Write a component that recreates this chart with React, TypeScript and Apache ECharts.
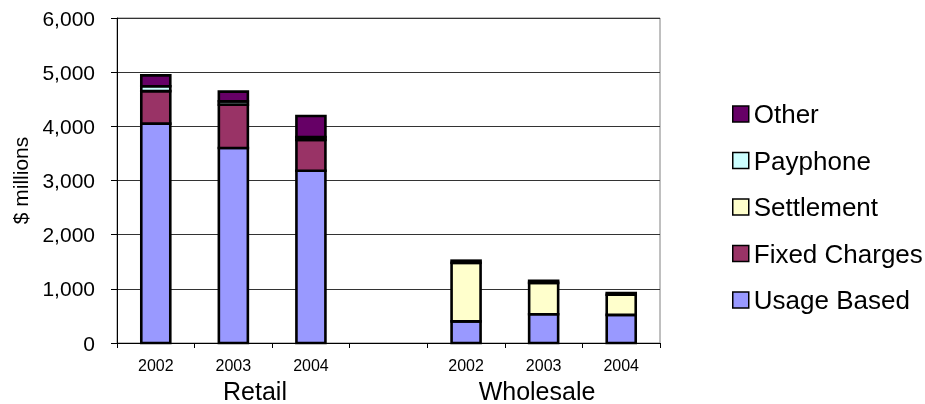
import React, { useEffect, useRef } from "react";
import * as echarts from "echarts";

const categories = ["2002", "2003", "2004", "", "2002", "2003", "2004"];
const groupLabels = ["Retail", "Wholesale"];
const usageBased = [4050, 3600, 3180, null, 400, 530, 520];
const fixedCharges = [600, 800, 570, null, null, null, null];
const settlement = [null, null, null, null, 1080, 580, 370];
const payphone = [90, 60, 50, null, null, null, null];
const other = [200, 180, 390, null, 40, 40, 30];
const yTicks = [0, 1000, 2000, 3000, 4000, 5000, 6000];

const FONT = "'Liberation Sans', Arial, sans-serif";

type Def = { name: string; data: (number | null)[]; color: string };
const stackDefs: Def[] = [
  { name: "Usage Based", data: usageBased, color: "#9999FF" },
  { name: "Fixed Charges", data: fixedCharges, color: "#993366" },
  { name: "Settlement", data: settlement, color: "#FFFFCC" },
  { name: "Payphone", data: payphone, color: "#CCFFFF" },
  { name: "Other", data: other, color: "#660066" },
];

export default function App() {
  const ref = useRef<HTMLDivElement>(null);
  useEffect(() => {
    if (!ref.current) return;
    const chart = echarts.init(ref.current, undefined, { renderer: "svg" });
    const series = stackDefs.map((def, k) => ({
      name: def.name,
      type: "custom",
      itemStyle: { color: def.color },
      encode: { x: 0, y: 1 },
      data: def.data.map((v, i) => [i, v == null ? 0 : v]),
      renderItem: (params: any, api: any) => {
        const i = params.dataIndex;
        const v = def.data[i];
        if (v == null) return null;
        let base = 0;
        for (let j = 0; j < k; j++) base += stackDefs[j].data[i] ?? 0;
        const p0 = api.coord([i, base]);
        const p1 = api.coord([i, base + v]);
        const w = 29;
        return {
          type: "rect",
          shape: { x: p0[0] - w / 2, y: p1[1], width: w, height: p0[1] - p1[1] },
          style: { fill: def.color, stroke: "#000", lineWidth: 2.6 },
        };
      },
    }));
    chart.setOption({
      animation: false,
      textStyle: { fontFamily: FONT },
      grid: {
        left: 117,
        right: 265,
        top: 18,
        bottom: 61,
        show: true,
        borderColor: "#808080",
        borderWidth: 1,
      },
      legend: {
        orient: "vertical",
        left: 727,
        top: 96,
        itemWidth: 16,
        itemHeight: 16,
        itemGap: 20.5,
        icon: "rect",
        data: ["Other", "Payphone", "Settlement", "Fixed Charges", "Usage Based"],
        textStyle: { fontSize: 26, color: "#000", fontFamily: FONT },
        itemStyle: { borderColor: "#000", borderWidth: 1.5 },
      },
      xAxis: {
        type: "category",
        data: categories,
        axisLine: { lineStyle: { color: "#000", width: 1 } },
        axisTick: { show: true, length: 5, lineStyle: { color: "#000" } },
        axisLabel: { fontSize: 16, color: "#000", margin: 14, interval: 0 },
      },
      yAxis: {
        type: "value",
        min: yTicks[0],
        max: yTicks[yTicks.length - 1],
        interval: 1000,
        name: "$ millions",
        nameLocation: "middle",
        nameGap: 86,
        nameTextStyle: { fontSize: 21, color: "#000" },
        axisLine: { show: true, lineStyle: { color: "#000", width: 1 } },
        axisTick: { show: true, length: 6, lineStyle: { color: "#000" } },
        axisLabel: {
          fontSize: 21,
          color: "#000",
          margin: 22,
          formatter: (v: number) => v.toLocaleString("en-US"),
        },
        splitLine: { lineStyle: { color: "#333", width: 1 } },
      },
      graphic: [
        {
          type: "text",
          x: 255,
          y: 391,
          style: {
            text: groupLabels[0],
            fontSize: 25,
            fontFamily: FONT,
            fill: "#000",
            align: "center",
            verticalAlign: "middle",
          },
        },
        {
          type: "text",
          x: 537,
          y: 391,
          style: {
            text: groupLabels[1],
            fontSize: 25,
            fontFamily: FONT,
            fill: "#000",
            align: "center",
            verticalAlign: "middle",
          },
        },
      ],
      series,
    });
    return () => chart.dispose();
  }, []);
  return (
    <div
      ref={ref}
      style={{ position: "fixed", left: 0, top: 0, width: 925, height: 404 }}
    />
  );
}
